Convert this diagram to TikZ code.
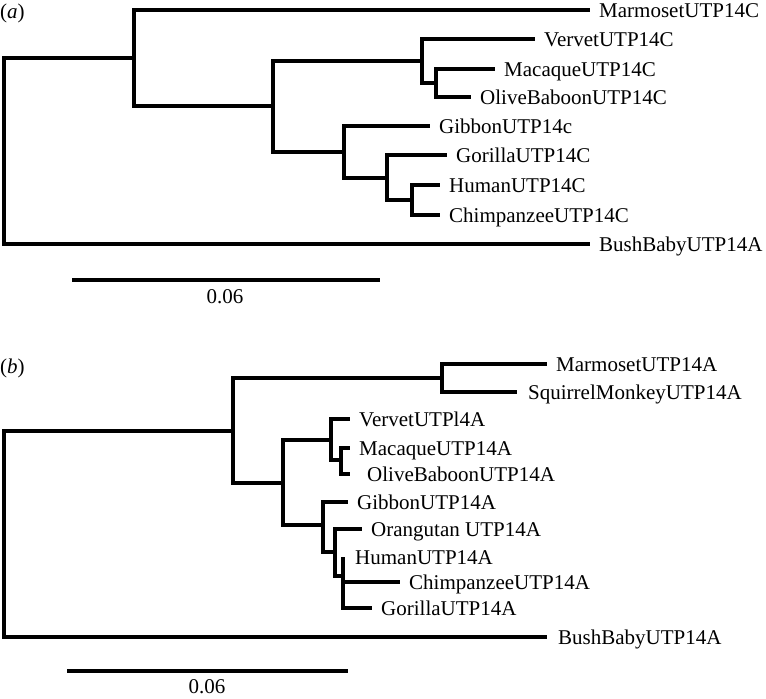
\documentclass[tikz,border=0pt]{standalone}
\usepackage{fontspec}
\setmainfont{Liberation Serif}
\begin{document}
\begin{tikzpicture}[x=1pt,y=-1pt,
  br/.style={line width=3.3pt},
  lab/.style={anchor=base west, inner sep=0pt, xshift=9pt, yshift=-7.5pt, font=\fontsize{21}{25}\selectfont},
  plab/.style={anchor=base west, inner sep=0pt, font=\fontsize{21}{25}\selectfont},
  slab/.style={anchor=base, inner sep=0pt, font=\fontsize{21}{25}\selectfont}]
\useasboundingbox (0,0) rectangle (766,699);
% ---------- tree (a) ----------
\coordinate (r) at (4,151);
\coordinate (n1) at (134,58);
\coordinate (n2) at (273,106);
\coordinate (n3) at (422,61);
\coordinate (n4) at (436,83);
\coordinate (n5) at (344,152);
\coordinate (n6) at (387,178);
\coordinate (n7) at (412,200);
\coordinate (aMar) at (590,10);
\coordinate (aVer) at (535,39);
\coordinate (aMac) at (495,69);
\coordinate (aOli) at (471,97);
\coordinate (aGib) at (430,126);
\coordinate (aGor) at (447,155);
\coordinate (aHum) at (440,185);
\coordinate (aChi) at (440,215);
\coordinate (aBus) at (590,244);
\draw[br] (r) |- (n1);
\draw[br] (r) |- (aBus);
\draw[br] (n1) |- (aMar);
\draw[br] (n1) |- (n2);
\draw[br] (n2) |- (n3);
\draw[br] (n2) |- (n5);
\draw[br] (n3) |- (aVer);
\draw[br] (n3) |- (n4);
\draw[br] (n4) |- (aMac);
\draw[br] (n4) |- (aOli);
\draw[br] (n5) |- (aGib);
\draw[br] (n5) |- (n6);
\draw[br] (n6) |- (aGor);
\draw[br] (n6) |- (n7);
\draw[br] (n7) |- (aHum);
\draw[br] (n7) |- (aChi);
\node[lab] (taMar) at (aMar) {MarmosetUTP14C};
\node[lab] (taVer) at (aVer) {VervetUTP14C};
\node[lab] (taMac) at (aMac) {MacaqueUTP14C};
\node[lab] (taOli) at (aOli) {OliveBaboonUTP14C};
\node[lab] (taGib) at (aGib) {GibbonUTP14c};
\node[lab] (taGor) at (aGor) {GorillaUTP14C};
\node[lab] (taHum) at (aHum) {HumanUTP14C};
\node[lab] (taChi) at (aChi) {ChimpanzeeUTP14C};
\node[lab] (taBus) at (aBus) {BushBabyUTP14A};
\node[plab] (pa) at (0,18) {(\textit{a})};
\coordinate (sa1) at (72,280);
\coordinate (sa2) at (380,280);
\draw[br] (sa1) -- (sa2);
\node[slab] (sal) at (225,303) {0.06};
% ---------- tree (b) ----------
\coordinate (R) at (4,534);
\coordinate (m1) at (233,431);
\coordinate (m2) at (442,378);
\coordinate (m3) at (283,483);
\coordinate (m4) at (331,440);
\coordinate (m5) at (341,460);
\coordinate (m6) at (323,525);
\coordinate (m7) at (335,552);
\coordinate (m8) at (343,576);
\coordinate (bMar) at (547,364);
\coordinate (bSqu) at (517,392);
\coordinate (bVer) at (350,419);
\coordinate (bMac) at (350,448);
\coordinate (bOli) at (350,474);
\coordinate (bGib) at (348,502);
\coordinate (bOra) at (362,529);
\coordinate (bHum) at (343,557);
\coordinate (bChi) at (400,582);
\coordinate (bGor) at (372,608);
\coordinate (bBus) at (547,637);
\draw[br] (R) |- (m1);
\draw[br] (R) |- (bBus);
\draw[br] (m1) |- (m2);
\draw[br] (m1) |- (m3);
\draw[br] (m2) |- (bMar);
\draw[br] (m2) |- (bSqu);
\draw[br] (m3) |- (m4);
\draw[br] (m3) |- (m6);
\draw[br] (m4) |- (bVer);
\draw[br] (m4) |- (m5);
\draw[br] (m5) |- (bMac);
\draw[br] (m5) |- (bOli);
\draw[br] (m6) |- (bGib);
\draw[br] (m6) |- (m7);
\draw[br] (m7) |- (bOra);
\draw[br] (m7) |- (m8);
\draw[br] (m8) |- (bHum);
\draw[br] (m8) |- (bChi);
\draw[br] (m8) |- (bGor);
\node[lab] (tbMar) at (bMar) {MarmosetUTP14A};
\node[lab, xshift=2pt] (tbSqu) at (bSqu) {SquirrelMonkeyUTP14A};
\node[lab] (tbVer) at (bVer) {VervetUTPl4A};
\node[lab] (tbMac) at (bMac) {MacaqueUTP14A};
\node[lab, xshift=8pt] (tbOli) at (bOli) {OliveBaboonUTP14A};
\node[lab] (tbGib) at (bGib) {GibbonUTP14A};
\node[lab] (tbOra) at (bOra) {Orangutan UTP14A};
\node[lab, xshift=3pt] (tbHum) at (bHum) {HumanUTP14A};
\node[lab] (tbChi) at (bChi) {ChimpanzeeUTP14A};
\node[lab] (tbGor) at (bGor) {GorillaUTP14A};
\node[lab, xshift=2pt] (tbBus) at (bBus) {BushBabyUTP14A};
\node[plab] (pb) at (0,373) {(\textit{b})};
\coordinate (sb1) at (67,671);
\coordinate (sb2) at (348,671);
\draw[br] (sb1) -- (sb2);
\node[slab] (sbl) at (207,693) {0.06};
\end{tikzpicture}
\end{document}
